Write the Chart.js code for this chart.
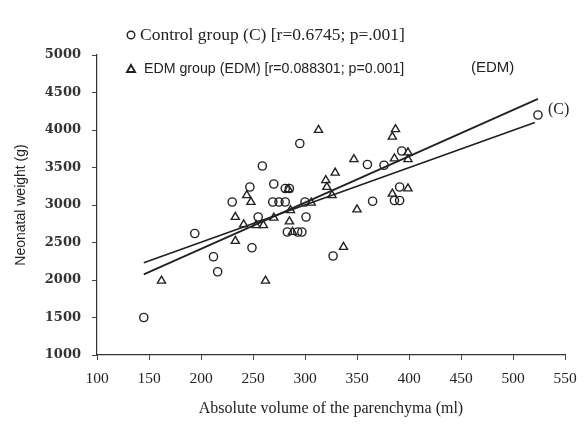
<!DOCTYPE html>
<html>
<head>
<meta charset="utf-8">
<script src="https://cdn.jsdelivr.net/npm/chart.js@4.4.0/dist/chart.umd.min.js"></script>
<style>
html,body{margin:0;padding:0;background:#fff;}
#wrap{width:587px;height:431px;position:relative;}
</style>
</head>
<body>
<div id="wrap"><canvas id="c" width="587" height="431"></canvas></div>
<script>
// Data
const controlX = [145,194,212,216,230,247,249,255,259,269,270,275,281,281,285,283,293,297,295,300,301,327,360,376,365,386,391,391,393,524];
const controlY = [1500,2620,2310,2110,3040,3240,2430,2840,3520,3040,3280,3040,3040,3220,3220,2640,2640,2640,3820,3040,2840,2320,3540,3530,3050,3060,3060,3240,3720,4200];
const edmX = [162,233,233,241,244,248,253,260,262,270,284,286,285,288,306,320,321,326,329,313,337,347,350,384,387,386,399,399,384,399];
const edmY = [1990,2520,2840,2740,3130,3040,2730,2730,1990,2830,3210,2930,2780,2640,3030,3330,3240,3130,3430,4000,2440,3610,2940,3910,4010,3620,3700,3610,3150,3220];
const fitCX = [145,521];
const fitCY = [2230,4100];
const fitEX = [145,524];
const fitEY = [2075,4415];
const xTicks = [100,150,200,250,300,350,400,450,500,550];
const yTicks = [1000,1500,2000,2500,3000,3500,4000,4500,5000];
const legendC = 'Control group (C) [r=0.6745; p=.001]';
const legendE = 'EDM group (EDM) [r=0.088301; p=0.001]';
const xTitle = 'Absolute volume of the parenchyma (ml)';
const yTitle = 'Neonatal weight (g)';

const pts = (xs, ys) => xs.map((x, i) => ({x: x, y: ys[i]}));
const INK = '#222';

const annot = {
  id: 'annot',
  afterDraw(chart) {
    const ctx = chart.ctx;
    const xs = chart.scales.x, ys = chart.scales.y;
    ctx.save();
    ctx.fillStyle = INK;
    ctx.strokeStyle = INK;
    // legend line 1
    ctx.lineWidth = 1.4;
    ctx.beginPath(); ctx.arc(131, 35, 3.8, 0, Math.PI * 2); ctx.stroke();
    ctx.font = '17.5px "Liberation Serif"';
    ctx.textBaseline = 'middle'; ctx.textAlign = 'left';
    ctx.fillText(legendC, 140, 35);
    // legend line 2
    ctx.lineWidth = 1.9;
    ctx.beginPath(); ctx.moveTo(131, 65); ctx.lineTo(135, 72); ctx.lineTo(127, 72); ctx.closePath(); ctx.stroke();
    ctx.font = '14.2px "Liberation Sans"';
    ctx.fillText(legendE, 144, 69);
    ctx.font = '15px "Liberation Sans"';
    ctx.fillText('(EDM)', 471, 68);
    // (C) label
    ctx.font = '16px "Liberation Serif"';
    ctx.fillText('(C)', 548, ys.getPixelForValue(4270));
    // axis titles
    ctx.textAlign = 'center';
    ctx.font = '16px "Liberation Serif"';
    ctx.fillText(xTitle, (xs.left + xs.right) / 2, 409);
    ctx.save();
    ctx.translate(21, (ys.top + ys.bottom) / 2);
    ctx.rotate(-Math.PI / 2);
    ctx.font = '14px "Liberation Sans"';
    ctx.fillText(yTitle, 0, 0);
    ctx.restore();
    ctx.restore();
  }
};

new Chart(document.getElementById('c'), {
  type: 'scatter',
  data: {
    datasets: [
      {label: 'C', data: pts(controlX, controlY), pointStyle: 'circle', radius: 4.1, borderColor: INK, backgroundColor: 'rgba(0,0,0,0)', borderWidth: 1.4},
      {label: 'EDM', data: pts(edmX, edmY), pointStyle: 'triangle', radius: 4.7, borderColor: INK, backgroundColor: 'rgba(0,0,0,0)', borderWidth: 1.4},
      {label: 'fitC', data: pts(fitCX, fitCY), showLine: true, pointRadius: 0, borderColor: INK, borderWidth: 1.8},
      {label: 'fitE', data: pts(fitEX, fitEY), showLine: true, pointRadius: 0, borderColor: INK, borderWidth: 1.8}
    ]
  },
  options: {
    responsive: false,
    animation: false,
    layout: {padding: {top: 55, right: 22, left: 0, bottom: 0}},
    plugins: {legend: {display: false}, tooltip: {enabled: false}},
    scales: {
      x: {
        type: 'linear', min: 100, max: 550,
        afterBuildTicks: s => { s.ticks = xTicks.map(v => ({value: v})); },
        afterFit: s => { s.height = 76; },
        grid: {display: true, drawOnChartArea: false, drawTicks: true, tickLength: 5, color: '#444'},
        border: {display: true, color: '#333', width: 1.2},
        ticks: {color: INK, font: {family: '"Liberation Serif"', size: 15.5}, padding: 10, maxRotation: 0, callback: v => String(v)}
      },
      y: {
        type: 'linear', min: 1000, max: 5000,
        afterBuildTicks: s => { s.ticks = yTicks.map(v => ({value: v})); },
        afterFit: s => { s.width = 97; },
        grid: {display: true, drawOnChartArea: false, drawTicks: true, tickLength: 5, color: '#444'},
        border: {display: true, color: '#333', width: 1.2},
        ticks: {color: '#333', font: {family: '"DejaVu Serif"', size: 13, weight: 'bold'}, padding: 11, callback: v => String(v)}
      }
    }
  },
  plugins: [annot]
});
</script>
</body>
</html>
